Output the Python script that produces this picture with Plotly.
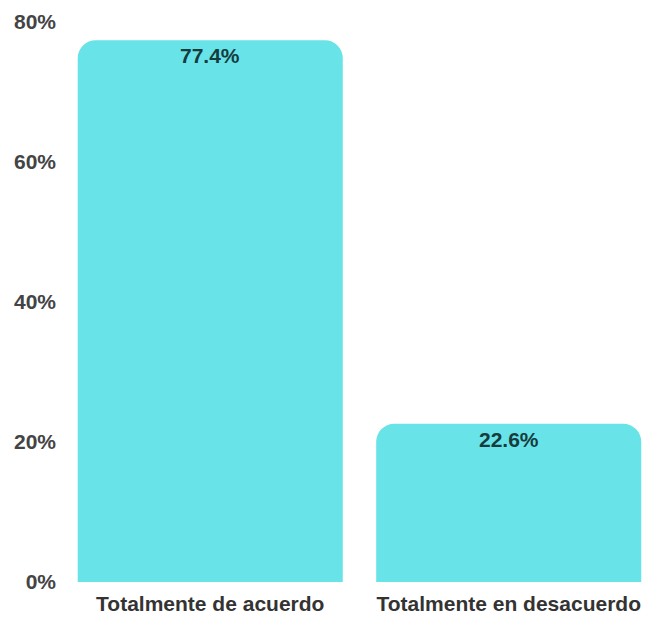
import plotly.graph_objects as go

categories = ["Totalmente de acuerdo", "Totalmente en desacuerdo"]
values = [77.4, 22.6]
labels = ["77.4%", "22.6%"]
tick_vals = [0, 20, 40, 60, 80]
tick_text = ["0%", "20%", "40%", "60%", "80%"]

fig = go.Figure(go.Bar(
    x=categories, y=values,
    marker=dict(color="#68e3e8", line=dict(width=0)),
    width=0.888, hoverinfo="skip",
))
for c, v, t in zip(categories, values, labels):
    fig.add_annotation(x=c, y=v, text=t, showarrow=False, yanchor="top", yshift=-2,
                       font=dict(family="Liberation Sans", size=21, color="#163c3e", weight="bold"))
fig.update_layout(
    width=652, height=617,
    margin=dict(l=53, r=8, t=14, b=43),
    paper_bgcolor="white", plot_bgcolor="white",
    barcornerradius=18, showlegend=False,
    font=dict(family="Liberation Sans", color="#333333"),
)
fig.update_xaxes(range=[-0.5, 1.48], showgrid=False, showline=False, ticks="",
                 automargin=False, ticklabelstandoff=7,
                 tickfont=dict(size=21, color="#333333", weight="bold"))
fig.update_yaxes(range=[0, 80], tickvals=tick_vals, ticktext=tick_text, showgrid=False,
                 zeroline=False, showline=False, ticks="", ticklabelstandoff=4,
                 automargin=False,
                 tickfont=dict(size=21, color="#444444", weight="bold"))
fig.write_html("out.html")
